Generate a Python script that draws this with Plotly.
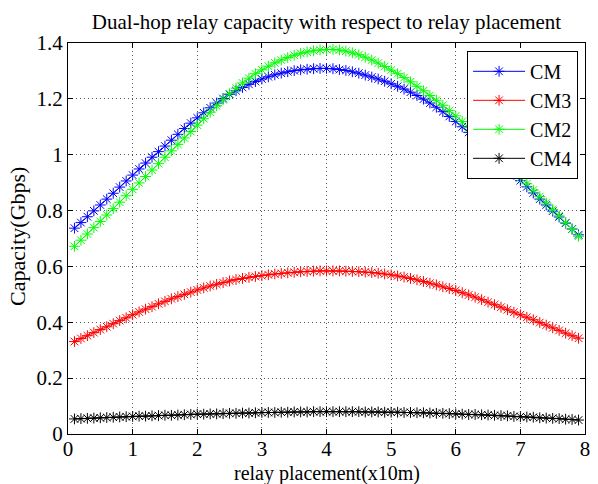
import plotly.graph_objects as go

# relay placement positions (x10 m)
placement = [round(0.1 * i, 1) for i in range(1, 80)]

cm = [0.737, 0.757, 0.778, 0.799, 0.820, 0.841, 0.862, 0.884, 0.906, 0.927,
      0.949, 0.970, 0.991, 1.011, 1.031, 1.052, 1.073, 1.094, 1.113, 1.132,
      1.150, 1.168, 1.185, 1.201, 1.216, 1.229, 1.241, 1.252, 1.262, 1.271,
      1.279, 1.286, 1.292, 1.297, 1.301, 1.304, 1.306, 1.308, 1.309, 1.309,
      1.308, 1.305, 1.302, 1.297, 1.292, 1.285, 1.278, 1.271, 1.263, 1.254,
      1.245, 1.235, 1.224, 1.212, 1.199, 1.185, 1.170, 1.154, 1.137, 1.119,
      1.100, 1.080, 1.059, 1.038, 1.017, 0.996, 0.974, 0.952, 0.930, 0.907,
      0.885, 0.863, 0.841, 0.820, 0.798, 0.777, 0.755, 0.734, 0.713]

cm3 = [0.331, 0.342, 0.352, 0.363, 0.374, 0.384, 0.395, 0.406, 0.416, 0.427,
       0.437, 0.447, 0.456, 0.466, 0.475, 0.484, 0.492, 0.500, 0.508, 0.516,
       0.523, 0.530, 0.536, 0.542, 0.548, 0.553, 0.557, 0.561, 0.564, 0.567,
       0.570, 0.573, 0.575, 0.577, 0.579, 0.581, 0.582, 0.583, 0.584, 0.584,
       0.584, 0.584, 0.583, 0.582, 0.581, 0.580, 0.578, 0.576, 0.573, 0.570,
       0.566, 0.562, 0.557, 0.552, 0.546, 0.540, 0.534, 0.527, 0.521, 0.514,
       0.506, 0.498, 0.490, 0.481, 0.472, 0.463, 0.454, 0.445, 0.436, 0.427,
       0.418, 0.409, 0.399, 0.390, 0.380, 0.371, 0.361, 0.352, 0.343]

cm2 = [0.672, 0.694, 0.716, 0.739, 0.761, 0.784, 0.807, 0.830, 0.853, 0.876,
       0.899, 0.922, 0.945, 0.968, 0.991, 1.014, 1.037, 1.060, 1.083, 1.106,
       1.129, 1.152, 1.175, 1.197, 1.218, 1.238, 1.257, 1.274, 1.290, 1.304,
       1.317, 1.329, 1.339, 1.348, 1.356, 1.363, 1.368, 1.372, 1.375, 1.377,
       1.377, 1.375, 1.371, 1.365, 1.358, 1.349, 1.339, 1.328, 1.316, 1.303,
       1.290, 1.276, 1.261, 1.245, 1.229, 1.212, 1.195, 1.177, 1.158, 1.139,
       1.119, 1.097, 1.075, 1.053, 1.031, 1.008, 0.985, 0.962, 0.940, 0.918,
       0.896, 0.873, 0.850, 0.827, 0.804, 0.781, 0.757, 0.733, 0.708]

cm4 = [0.054, 0.055, 0.056, 0.057, 0.058, 0.059, 0.060, 0.061, 0.062, 0.063,
       0.064, 0.064, 0.065, 0.066, 0.067, 0.067, 0.068, 0.069, 0.070, 0.071,
       0.071, 0.072, 0.072, 0.073, 0.074, 0.074, 0.075, 0.075, 0.076, 0.077,
       0.077, 0.077, 0.078, 0.078, 0.079, 0.079, 0.079, 0.080, 0.080, 0.080,
       0.080, 0.080, 0.080, 0.080, 0.080, 0.079, 0.079, 0.079, 0.078, 0.078,
       0.078, 0.077, 0.077, 0.076, 0.076, 0.075, 0.074, 0.074, 0.073, 0.072,
       0.071, 0.070, 0.070, 0.069, 0.068, 0.067, 0.066, 0.065, 0.063, 0.062,
       0.061, 0.060, 0.058, 0.057, 0.056, 0.055, 0.053, 0.052, 0.050]

series_names = ["CM", "CM3", "CM2", "CM4"]
series_values = [cm, cm3, cm2, cm4]
series_colors = ["#0000ff", "#ff0000", "#00ff00", "#000000"]

x_ticks = [0, 1, 2, 3, 4, 5, 6, 7, 8]
y_ticks = [0, 0.2, 0.4, 0.6, 0.8, 1.0, 1.2, 1.4]

title_text = "Dual-hop relay capacity with respect to relay placement"
x_title = "relay placement(x10m)"
y_title = "Capacity(Gbps)"

FONT = "Liberation Serif, Times New Roman, serif"

fig = go.Figure()
for name, vals, col in zip(series_names, series_values, series_colors):
    fig.add_trace(go.Scatter(
        x=placement, y=vals, name=name, mode="lines+markers",
        legendgroup=name,
        line=dict(color=col, width=1),
        marker=dict(symbol="asterisk-open", size=9, color=col,
                    line=dict(color=col, width=1)),
    ))

axis_common = dict(
    showline=True, linecolor="#000000", linewidth=1, mirror="ticks",
    ticks="inside", ticklen=5, tickcolor="#000000",
    showgrid=True, gridcolor="#555555", gridwidth=1, griddash="1px,3px",
    zeroline=False,
    tickfont=dict(family=FONT, size=21, color="#000000"),
)

fig.update_layout(
    width=598, height=484,
    margin=dict(l=68, r=8, t=43, b=50),
    paper_bgcolor="white", plot_bgcolor="white",
    font=dict(family=FONT, color="#000000"),
    title=dict(text=title_text,
               x=0.5, xref="paper", xanchor="center",
               y=0.955, yref="container", yanchor="middle",
               font=dict(family=FONT, size=21, color="#000000")),
    xaxis=dict(range=[0, 8], tickvals=x_ticks, ticklabelstandoff=-4,
               **axis_common),
    yaxis=dict(range=[0, 1.4], tickvals=y_ticks, **axis_common),
    legend=dict(x=0.9866, y=0.98, xanchor="right", yanchor="top",
                bgcolor="white", bordercolor="#000000", borderwidth=1,
                font=dict(family=FONT, size=20, color="#000000"),
                tracegroupgap=0, itemwidth=52),
    showlegend=True,
    annotations=[
        dict(text=x_title, xref="paper", yref="paper", x=0.5, y=-0.1,
             xanchor="center", yanchor="middle", showarrow=False,
             font=dict(family=FONT, size=20, color="#000000")),
        dict(text=y_title, xref="paper", yref="paper", x=-0.098, y=0.505,
             xanchor="center", yanchor="middle", showarrow=False, textangle=-90,
             font=dict(family=FONT, size=22, color="#000000")),
    ],
)

fig.write_html("out.html",
               config={"displayModeBar": False},
               post_script="document.body.style.margin='0';document.body.style.padding='0';")
